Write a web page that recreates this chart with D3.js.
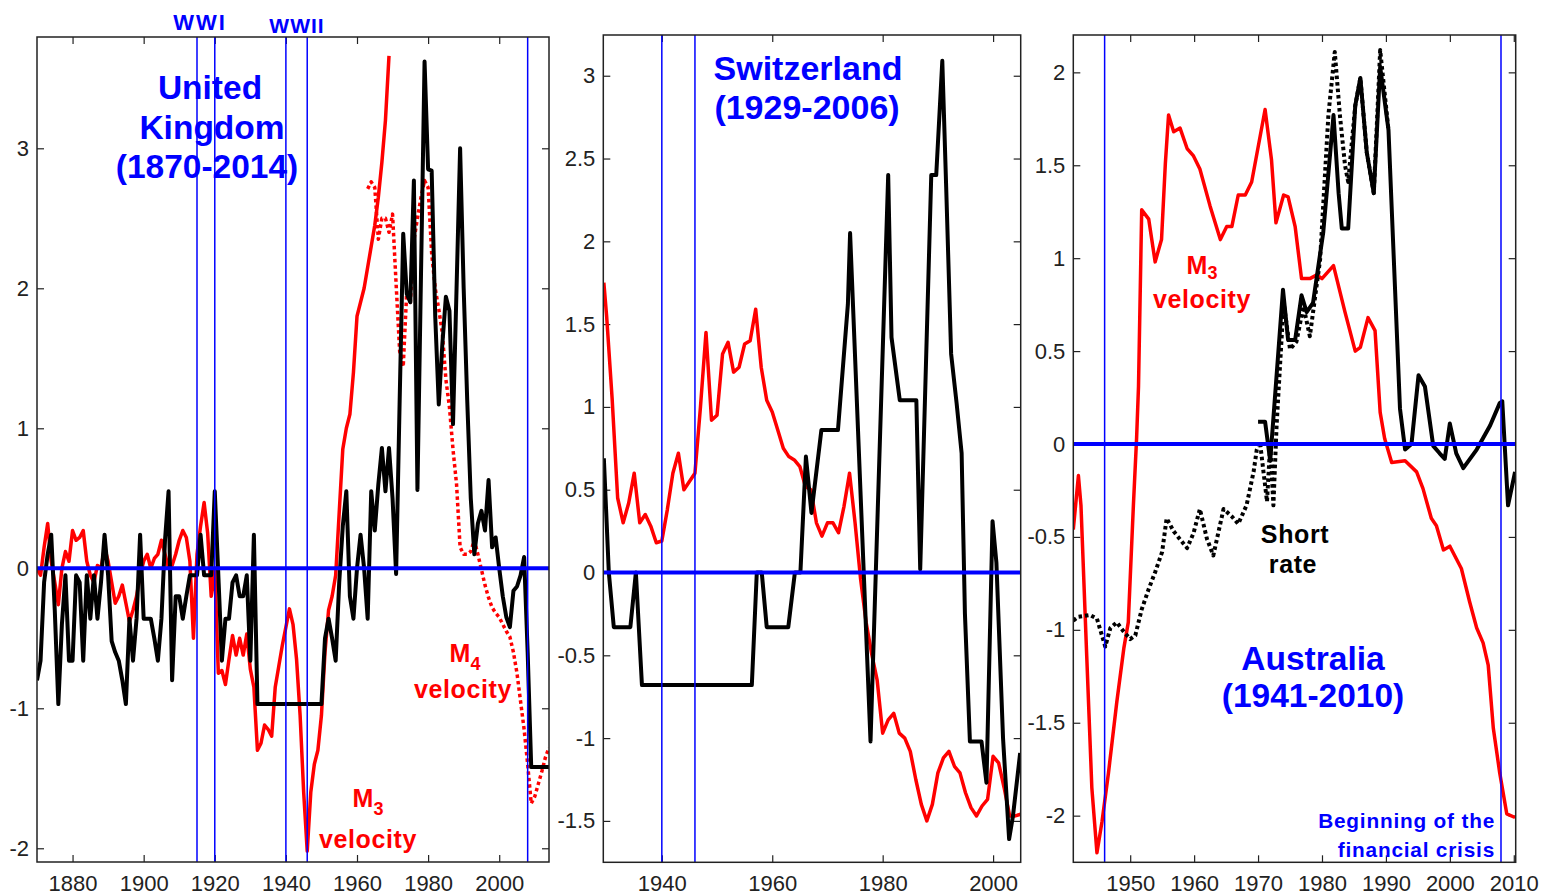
<!DOCTYPE html>
<html>
<head>
<meta charset="utf-8">
<script src="https://cdn.jsdelivr.net/npm/d3@7"></script>
<style>
  body { margin: 0; background: #fff; }
  svg { display: block; font-family: Arial, "Liberation Sans", sans-serif; }
</style>
</head>
<body>
<div id="chart"></div>
<script>
// ---- United Kingdom ----
var ukShortRate = [
  [1870,-0.80],[1871,-0.66],[1872,-0.10],[1873,0.10],[1874,0.24],[1875,-0.30],[1876,-0.97],[1877,-0.40],
  [1878,-0.05],[1879,-0.66],[1880,-0.66],[1881,-0.05],[1882,-0.10],[1883,-0.66],[1884,-0.05],[1885,-0.36],
  [1886,-0.05],[1887,-0.36],[1888,-0.10],[1889,0.24],[1890,-0.05],[1891,-0.52],[1892,-0.60],[1893,-0.66],
  [1894,-0.80],[1895,-0.97],[1896,-0.36],[1897,-0.66],[1898,-0.36],[1899,0.24],[1900,-0.36],[1901,-0.36],
  [1902,-0.36],[1903,-0.50],[1904,-0.66],[1905,-0.36],[1906,0.20],[1907,0.55],[1908,-0.80],[1909,-0.20],
  [1910,-0.20],[1911,-0.36],[1912,-0.20],[1913,-0.05],[1914,-0.05],[1915,-0.05],[1916,0.24],[1917,-0.05],
  [1918,-0.05],[1919,-0.05],[1920,0.55],[1921,-0.05],[1922,-0.66],[1923,-0.36],[1924,-0.36],[1925,-0.10],
  [1926,-0.05],[1927,-0.20],[1928,-0.20],[1929,-0.05],[1930,-0.66],[1931,0.24],[1932,-0.97],[1935,-0.97],
  [1940,-0.97],[1945,-0.97],[1950,-0.97],[1951,-0.50],[1952,-0.36],[1953,-0.50],[1954,-0.66],[1955,-0.10],
  [1956,0.30],[1957,0.55],[1958,-0.20],[1959,-0.36],[1960,0.00],[1961,0.24],[1962,0.00],[1963,-0.36],
  [1964,0.55],[1965,0.27],[1966,0.60],[1967,0.86],[1968,0.55],[1969,0.86],[1970,0.50],[1971,-0.04],
  [1972,1.20],[1973,2.39],[1974,1.96],[1975,1.90],[1976,2.77],[1977,0.56],[1978,2.10],[1979,3.62],
  [1980,2.85],[1981,2.84],[1982,1.80],[1983,1.17],[1984,1.60],[1985,1.94],[1986,1.84],[1987,1.03],
  [1988,2.00],[1989,3.00],[1990,2.00],[1991,1.20],[1992,0.50],[1993,0.10],[1994,0.32],[1995,0.41],
  [1996,0.27],[1997,0.63],[1998,0.15],[1999,0.22],[2000,0.00],[2001,-0.20],[2002,-0.35],[2003,-0.42],
  [2004,-0.16],[2005,-0.13],[2006,-0.05],[2007,0.08],[2008,-0.60],[2009,-1.42],[2010,-1.42],[2011,-1.42],
  [2012,-1.42],[2013,-1.42],[2014,-1.42]
];
var ukM3Velocity = [
  [1870,0.00],[1871,-0.05],[1872,0.15],[1873,0.32],[1874,0.05],[1875,-0.10],[1876,-0.26],[1877,0.00],
  [1878,0.12],[1879,0.05],[1880,0.27],[1881,0.20],[1882,0.22],[1883,0.27],[1884,0.05],[1885,-0.05],
  [1886,-0.10],[1887,0.02],[1888,0.00],[1889,0.15],[1890,0.05],[1891,-0.10],[1892,-0.25],[1893,-0.20],
  [1894,-0.12],[1895,-0.25],[1896,-0.38],[1897,-0.30],[1898,-0.20],[1899,-0.05],[1900,0.05],[1901,0.10],
  [1902,0.00],[1903,0.07],[1904,0.10],[1905,0.20],[1906,0.10],[1907,0.00],[1908,0.02],[1909,0.10],
  [1910,0.20],[1911,0.27],[1912,0.22],[1913,0.05],[1914,-0.50],[1915,0.10],[1916,0.30],[1917,0.47],
  [1918,0.25],[1919,-0.20],[1920,0.00],[1921,-0.75],[1922,-0.73],[1923,-0.83],[1924,-0.65],[1925,-0.48],
  [1926,-0.62],[1927,-0.50],[1928,-0.62],[1929,-0.47],[1930,-0.72],[1931,-0.85],[1932,-1.30],[1933,-1.25],
  [1934,-1.12],[1935,-1.15],[1936,-1.20],[1937,-0.85],[1938,-0.70],[1939,-0.55],[1940,-0.42],[1941,-0.29],
  [1942,-0.40],[1943,-0.65],[1944,-1.05],[1945,-1.60],[1946,-2.02],[1947,-1.60],[1948,-1.40],[1949,-1.30],
  [1950,-1.05],[1951,-0.60],[1952,-0.30],[1953,-0.20],[1954,-0.05],[1955,0.40],[1956,0.85],[1957,1.00],
  [1958,1.10],[1959,1.40],[1960,1.80],[1961,1.90],[1962,2.00],[1963,2.15],[1964,2.30],[1965,2.45],
  [1966,2.65],[1967,2.90],[1968,3.20],[1969,3.66]
];
var ukM4Velocity = [
  [1963,2.71],[1964,2.76],[1965,2.72],[1966,2.35],[1967,2.50],[1968,2.50],[1969,2.40],[1970,2.53],
  [1971,2.03],[1972,1.55],[1973,1.44],[1974,1.98],[1975,1.90],[1976,2.34],[1977,2.50],[1978,2.65],
  [1979,2.77],[1980,2.72],[1981,2.25],[1982,2.00],[1983,1.85],[1984,1.68],[1985,1.35],[1986,1.15],
  [1987,0.85],[1988,0.60],[1989,0.15],[1990,0.10],[1991,0.10],[1992,0.12],[1993,0.20],[1994,0.10],
  [1995,-0.01],[1996,-0.12],[1997,-0.21],[1998,-0.28],[1999,-0.32],[2000,-0.35],[2001,-0.40],[2002,-0.45],
  [2003,-0.49],[2004,-0.60],[2005,-0.75],[2006,-0.95],[2007,-1.15],[2008,-1.40],[2009,-1.68],[2010,-1.63],
  [2011,-1.54],[2012,-1.45],[2013,-1.35],[2014,-1.28]
];
var ukXTicks = [1880, 1900, 1920, 1940, 1960, 1980, 2000];
var ukYTicks = [-2, -1, 0, 1, 2, 3];
var ukEventYears = [1915, 1920, 1940, 1946, 2008];

// ---- Switzerland ----
var chShortRate = [
  [1929.5,0.69],[1930.4,0.00],[1931.3,-0.33],[1934.3,-0.33],[1935.3,0.00],[1936.4,-0.68],[1956.3,-0.68],
  [1957.2,0.00],[1958.1,0.00],[1959.0,-0.33],[1962.9,-0.33],[1964.1,0.00],[1965.1,0.00],[1966.1,0.70],
  [1967.1,0.36],[1968.9,0.86],[1971.9,0.86],[1973.7,1.62],[1974.1,2.05],[1977.8,-1.02],[1981.0,2.40],
  [1981.6,1.42],[1983.1,1.04],[1986.1,1.04],[1986.8,0.02],[1988.8,2.40],[1989.7,2.40],[1990.8,3.09],
  [1991.5,2.33],[1992.4,1.32],[1993.4,1.02],[1994.3,0.72],[1994.9,-0.25],[1995.8,-1.02],[1997.9,-1.02],
  [1998.8,-1.27],[1999.9,0.31],[2000.6,0.06],[2001.8,-1.00],[2002.9,-1.61],[2003.6,-1.47],[2004.9,-1.09]
];
var chM3Velocity = [
  [1929.5,1.75],[1930,1.55],[1931,1.05],[1932,0.45],[1933,0.30],[1934,0.42],[1935,0.60],[1936,0.30],
  [1937,0.35],[1938,0.28],[1939,0.18],[1940,0.19],[1941,0.38],[1942,0.60],[1943,0.72],[1944,0.50],
  [1945,0.55],[1946,0.60],[1947,1.00],[1948,1.45],[1949,0.92],[1950,0.95],[1951,1.32],[1952,1.39],
  [1953,1.21],[1954,1.24],[1955,1.38],[1956,1.40],[1957,1.59],[1958,1.24],[1959,1.04],[1960,0.97],
  [1961,0.86],[1962,0.75],[1963,0.70],[1964,0.68],[1965,0.64],[1966,0.52],[1967,0.50],[1968,0.30],
  [1969,0.22],[1970,0.30],[1971,0.30],[1972,0.24],[1973,0.40],[1974,0.60],[1975,0.30],[1976,-0.04],
  [1977,-0.30],[1978,-0.49],[1979,-0.65],[1980,-0.97],[1981,-0.89],[1982,-0.85],[1983,-0.97],[1984,-1.00],
  [1985,-1.08],[1986,-1.25],[1987,-1.40],[1988,-1.50],[1989,-1.40],[1990,-1.21],[1991,-1.12],[1992,-1.08],
  [1993,-1.17],[1994,-1.21],[1995,-1.33],[1996,-1.42],[1997,-1.47],[1998,-1.41],[1999,-1.37],[2000,-1.11],
  [2001,-1.15],[2002,-1.30],[2003,-1.47],[2004,-1.47],[2005,-1.46]
];
var chXTicks = [1940, 1960, 1980, 2000];
var chYTicks = [-1.5, -1, -0.5, 0, 0.5, 1, 1.5, 2, 2.5, 3];
var chEventYears = [1940, 1946];

// ---- Australia ----
var auM3Velocity = [
  [1941.1,-0.46],[1941.9,-0.17],[1942.3,-0.33],[1943.2,-1.14],[1944.0,-1.85],[1944.8,-2.20],[1945.6,-2.03],
  [1946.6,-1.77],[1947.9,-1.39],[1949.0,-1.10],[1949.7,-0.96],[1950.5,-0.33],[1951.0,0.03],[1951.3,0.31],
  [1951.8,1.26],[1952.9,1.21],[1953.9,0.98],[1954.9,1.10],[1955.5,1.51],[1956.0,1.77],[1956.8,1.68],
  [1957.8,1.70],[1958.9,1.59],[1959.9,1.55],[1960.9,1.48],[1962.5,1.28],[1964.1,1.10],[1965.1,1.17],
  [1965.9,1.17],[1966.9,1.34],[1968.0,1.34],[1969.0,1.41],[1971.1,1.80],[1972.1,1.53],[1972.8,1.19],
  [1974.0,1.34],[1974.7,1.33],[1975.8,1.17],[1976.8,0.89],[1978.1,0.89],[1979.2,0.91],[1980.0,0.89],
  [1981.8,0.96],[1983.6,0.71],[1985.2,0.50],[1986.0,0.52],[1987.2,0.68],[1988.3,0.61],[1989.1,0.17],
  [1989.8,0.03],[1990.9,-0.10],[1993.0,-0.09],[1994.8,-0.15],[1995.8,-0.24],[1997.1,-0.40],[1997.9,-0.44],
  [1999.0,-0.57],[2000.0,-0.55],[2001.8,-0.67],[2003.1,-0.85],[2004.2,-0.99],[2005.2,-1.07],[2006.0,-1.19],
  [2006.8,-1.53],[2007.8,-1.77],[2008.9,-1.99],[2010.2,-2.01]
];
var auShortRate = [
  [1970.0,0.12],[1971.1,0.12],[1971.9,-0.09],[1973.9,0.83],[1974.7,0.56],[1975.8,0.56],[1976.8,0.80],
  [1977.6,0.71],[1978.6,0.76],[1980.2,1.14],[1981.8,1.77],[1982.6,1.35],[1983.1,1.16],[1984.1,1.16],
  [1985.2,1.82],[1986.0,1.97],[1987.0,1.57],[1988.1,1.35],[1989.1,2.03],[1990.4,1.69],[1992.2,0.19],
  [1993.0,-0.03],[1994.0,0.00],[1995.1,0.37],[1996.1,0.31],[1997.4,-0.01],[1998.4,-0.05],[1999.2,-0.08],
  [2000.0,0.11],[2001.0,-0.05],[2002.1,-0.13],[2004.2,-0.03],[2006.3,0.10],[2007.8,0.22],[2008.2,0.23],
  [2009.1,-0.33],[2010.2,-0.15]
];
var auShortRateLong = [
  [1941.1,-0.95],[1941.9,-0.93],[1943.7,-0.92],[1944.8,-0.94],[1946.1,-1.09],[1946.9,-0.99],[1947.9,-0.96],
  [1949.0,-1.01],[1950.0,-1.05],[1950.8,-1.03],[1951.8,-0.89],[1952.9,-0.78],[1953.9,-0.69],[1955.0,-0.58],
  [1955.7,-0.40],[1956.8,-0.47],[1958.9,-0.56],[1959.9,-0.48],[1960.9,-0.35],[1962.0,-0.51],[1963.0,-0.60],
  [1964.6,-0.35],[1965.9,-0.39],[1966.9,-0.43],[1968.2,-0.33],[1969.3,-0.15],[1969.8,-0.03],[1970.3,0.01],
  [1971.4,-0.31],[1971.9,0.00],[1972.4,-0.33],[1972.9,0.10],[1974.0,0.76],[1975.0,0.51],[1976.0,0.55],
  [1977.1,0.74],[1978.1,0.58],[1979.7,0.99],[1981.0,1.77],[1982.0,2.11],[1982.8,1.77],[1983.6,1.50],
  [1984.1,1.41],[1985.2,1.82],[1986.0,1.97],[1987.0,1.57],[1988.1,1.35],[1989.1,2.12],[1990.4,1.69]
];
var auXTicks = [1950, 1960, 1970, 1980, 1990, 2000, 2010];
var auYTicks = [-2, -1.5, -1, -0.5, 0, 0.5, 1, 1.5, 2];
var auEventYears = [1946, 2008];

var BLUE = "#0000ff", RED = "#ff0000";

var svg = d3.select("#chart").append("svg")
  .attr("width", 1544)
  .attr("height", 895);

function drawPanel(p) {
  var x = d3.scaleLinear().domain(p.xDomain).range([p.left, p.right]);
  var y = d3.scaleLinear().domain(p.yDomain).range([p.bottom, p.top]);

  svg.append("clipPath").attr("id", "clip-" + p.id)
    .append("rect")
    .attr("x", p.left).attr("y", p.top)
    .attr("width", p.right - p.left).attr("height", p.bottom - p.top);

  var g = svg.append("g");

  function styleAxis(sel) {
    sel.attr("font-family", null).attr("font-size", null);
    sel.select(".domain").remove();
    sel.selectAll(".tick line").attr("stroke", "#222").attr("stroke-width", 1.2);
    sel.selectAll("text").style("font-size", "22px").attr("fill", "#222");
  }
  var fmt = function(d) { return String(d); };

  g.append("g").attr("transform", "translate(0," + p.bottom + ")")
    .call(d3.axisBottom(x).tickValues(p.xTicks).tickSizeInner(-7).tickSizeOuter(0).tickPadding(13).tickFormat(fmt))
    .call(styleAxis);
  g.append("g").attr("transform", "translate(0," + p.top + ")")
    .call(d3.axisTop(x).tickValues(p.xTicks).tickSizeInner(-7).tickSizeOuter(0).tickFormat(""))
    .call(styleAxis);
  g.append("g").attr("transform", "translate(" + p.left + ",0)")
    .call(d3.axisLeft(y).tickValues(p.yTicks).tickSizeInner(-7).tickSizeOuter(0).tickPadding(8).tickFormat(fmt))
    .call(styleAxis);
  g.append("g").attr("transform", "translate(" + p.right + ",0)")
    .call(d3.axisRight(y).tickValues(p.yTicks).tickSizeInner(-7).tickSizeOuter(0).tickFormat(""))
    .call(styleAxis);

  var line = d3.line()
    .x(function(d) { return x(d[0]); })
    .y(function(d) { return y(d[1]); });

  var plot = g.append("g").attr("clip-path", "url(#clip-" + p.id + ")");

  p.series.forEach(function(s) {
    plot.append("path")
      .datum(s.data)
      .attr("fill", "none")
      .attr("stroke", s.color)
      .attr("stroke-width", s.width)
      .attr("stroke-linejoin", "round")
      .attr("stroke-dasharray", s.dash || null)
      .attr("d", line);
  });

  plot.selectAll(".event")
    .data(p.events)
    .enter().append("line")
    .attr("x1", function(d) { return x(d); })
    .attr("x2", function(d) { return x(d); })
    .attr("y1", p.top).attr("y2", p.bottom)
    .attr("stroke", BLUE).attr("stroke-width", 1.5);

  plot.append("line")
    .attr("x1", p.left).attr("x2", p.right)
    .attr("y1", y(0)).attr("y2", y(0))
    .attr("stroke", BLUE).attr("stroke-width", 4);

  g.append("rect")
    .attr("x", p.left).attr("y", p.top)
    .attr("width", p.right - p.left).attr("height", p.bottom - p.top)
    .attr("fill", "none").attr("stroke", "#222").attr("stroke-width", 1.5);

  p.labels.forEach(function(l) {
    var t = svg.append("text")
      .attr("x", l.x).attr("y", l.y)
      .attr("text-anchor", l.anchor || "middle")
      .attr("fill", l.color)
      .attr("font-weight", "bold")
      .style("font-size", l.size + "px")
      .style("letter-spacing", (l.spacing || 0) + "px");
    t.append("tspan").text(l.text);
    if (l.sub) {
      t.append("tspan").text(l.sub)
        .attr("dy", l.subDy || 8)
        .style("font-size", Math.round(l.size * 0.7) + "px");
    }
  });
}

drawPanel({
  id: "uk", left: 37, right: 549, top: 37, bottom: 862,
  xDomain: [1870, 2014], yDomain: [-2.098, 3.795],
  xTicks: ukXTicks, yTicks: ukYTicks, events: ukEventYears,
  series: [
    { data: ukM3Velocity, color: RED, width: 3.5 },
    { data: ukM4Velocity, color: RED, width: 3.5, dash: "3.5,3" },
    { data: ukShortRate, color: "#000", width: 4 }
  ],
  labels: [
    { x: 200, y: 30, text: "WWI", color: BLUE, size: 22, spacing: 2 },
    { x: 297, y: 33, text: "WWII", color: BLUE, size: 21, spacing: 1 },
    { x: 210, y: 99, text: "United", color: BLUE, size: 33.5 },
    { x: 212, y: 139, text: "Kingdom", color: BLUE, size: 33.5 },
    { x: 207, y: 178, text: "(1870-2014)", color: BLUE, size: 33.5 },
    { x: 368, y: 807, text: "M", sub: "3", color: RED, size: 25 },
    { x: 368, y: 848, text: "velocity", color: RED, size: 25, spacing: 0.6 },
    { x: 465, y: 662, text: "M", sub: "4", color: RED, size: 25 },
    { x: 463, y: 698, text: "velocity", color: RED, size: 25, spacing: 0.6 }
  ]
});

drawPanel({
  id: "ch", left: 603.3, right: 1020.7, top: 35, bottom: 862.3,
  xDomain: [1929.4, 2005], yDomain: [-1.75, 3.246],
  xTicks: chXTicks, yTicks: chYTicks, events: chEventYears,
  series: [
    { data: chM3Velocity, color: RED, width: 3.5 },
    { data: chShortRate, color: "#000", width: 4 }
  ],
  labels: [
    { x: 808, y: 80, text: "Switzerland", color: BLUE, size: 34 },
    { x: 807, y: 119, text: "(1929-2006)", color: BLUE, size: 34 }
  ]
});

drawPanel({
  id: "au", left: 1073.3, right: 1515.7, top: 35, bottom: 862.3,
  xDomain: [1941.1, 2010.3], yDomain: [-2.251, 2.201],
  xTicks: auXTicks, yTicks: auYTicks, events: auEventYears,
  series: [
    { data: auM3Velocity, color: RED, width: 3.5 },
    { data: auShortRateLong, color: "#000", width: 4, dash: "3.5,3" },
    { data: auShortRate, color: "#000", width: 4 }
  ],
  labels: [
    { x: 1202, y: 274, text: "M", sub: "3", subDy: 5, color: RED, size: 25 },
    { x: 1202, y: 308, text: "velocity", color: RED, size: 25, spacing: 0.6 },
    { x: 1295, y: 543, text: "Short", color: "#000", size: 25, spacing: 0.6 },
    { x: 1293, y: 573, text: "rate", color: "#000", size: 25, spacing: 0.6 },
    { x: 1313, y: 670, text: "Australia", color: BLUE, size: 33.5 },
    { x: 1313, y: 707, text: "(1941-2010)", color: BLUE, size: 33.5 },
    { x: 1495, y: 828, text: "Beginning of the", color: BLUE, size: 20.8, anchor: "end", spacing: 0.8 },
    { x: 1495, y: 857, text: "financial crisis", color: BLUE, size: 20.8, anchor: "end", spacing: 0.8 }
  ]
});
</script>
</body>
</html>
